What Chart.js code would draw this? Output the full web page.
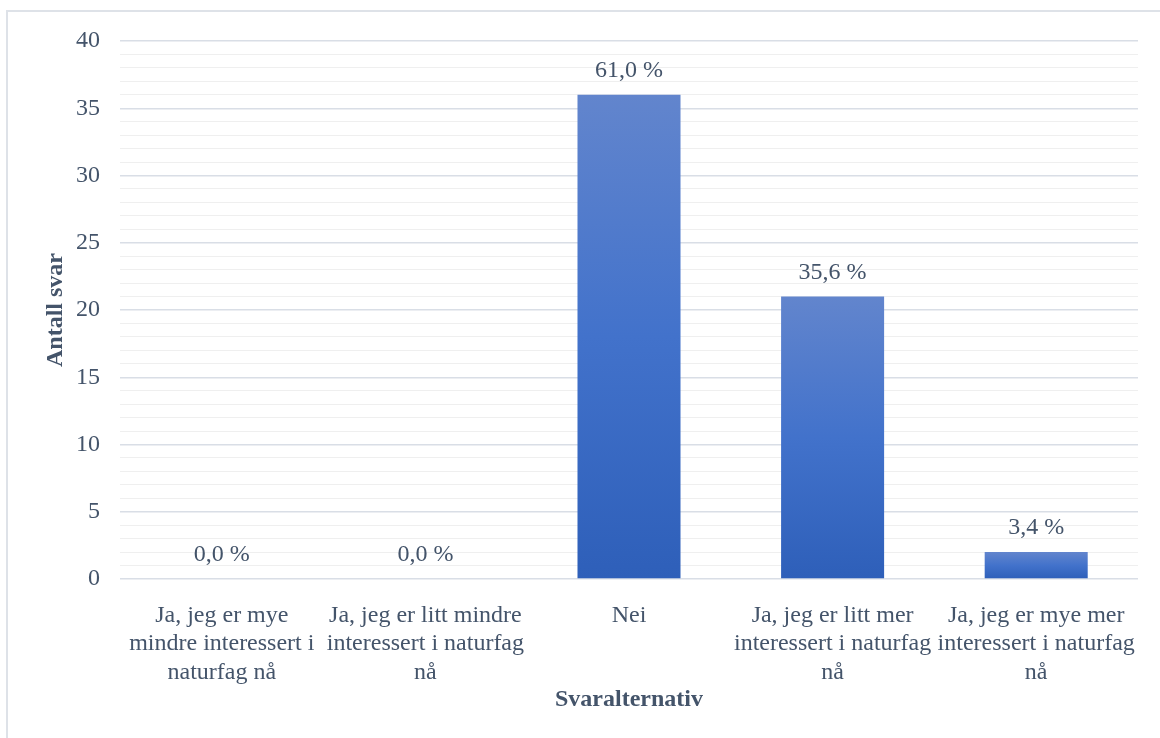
<!DOCTYPE html>
<html>
<head>
<meta charset="utf-8">
<script src="https://cdn.jsdelivr.net/npm/chart.js@4"></script>
<style>
  html, body { margin: 0; padding: 0; background: #fff; }
  #wrap { width: 1160px; height: 738px; }
</style>
</head>
<body>
<div id="wrap"><canvas id="chartCanvas" width="1160" height="738"></canvas></div>
<script>
// data
const categories = [
  ['Ja, jeg er mye', 'mindre interessert i', 'naturfag nå'],
  ['Ja, jeg er litt mindre', 'interessert i naturfag', 'nå'],
  ['Nei'],
  ['Ja, jeg er litt mer', 'interessert i naturfag', 'nå'],
  ['Ja, jeg er mye mer', 'interessert i naturfag', 'nå']
];
const counts = [0, 0, 36, 21, 2];
const yTicks = [0, 5, 10, 15, 20, 25, 30, 35, 40];

const textColor = '#44546a';
const fontFamily = "'Liberation Serif', 'Times New Roman', serif";

const total = counts.reduce((a, b) => a + b, 0);
const pctLabels = counts.map(v => (v / total * 100).toFixed(1).replace('.', ',') + ' %');

// frame around the whole chart
const framePlugin = {
  id: 'frame',
  beforeDraw(chart) {
    const c = chart.ctx;
    c.save();
    c.fillStyle = '#fff';
    c.fillRect(0, 0, chart.width, chart.height);
    c.strokeStyle = '#dee2e8';
    c.lineWidth = 2;
    c.strokeRect(7, 11, 2000, 2000);
    c.restore();
  }
};

// percent labels above each bar
const pctPlugin = {
  id: 'pctLabels',
  afterDatasetsDraw(chart) {
    const c = chart.ctx;
    const meta = chart.getDatasetMeta(0);
    c.save();
    c.font = '24px ' + fontFamily;
    c.fillStyle = textColor;
    c.textAlign = 'center';
    c.textBaseline = 'middle';
    meta.data.forEach((bar, i) => {
      c.fillText(pctLabels[i], bar.x, bar.y - 24);
    });
    c.restore();
  }
};

function barGradient(ctx) {
  const chart = ctx.chart;
  if (!chart.chartArea || ctx.type !== 'data') return '#4472c4';
  const y = chart.scales.y;
  const top = y.getPixelForValue(ctx.raw);
  const bottom = y.getPixelForValue(0);
  if (bottom - top < 1) return '#4472c4';
  const g = chart.ctx.createLinearGradient(0, top, 0, bottom);
  g.addColorStop(0, '#6285cd');
  g.addColorStop(0.5, '#4272cb');
  g.addColorStop(1, '#2e5fb9');
  return g;
}

const chart = new Chart(document.getElementById('chartCanvas').getContext('2d'), {
  type: 'bar',
  data: {
    labels: categories,
    datasets: [{
      data: counts,
      backgroundColor: barGradient,
      borderWidth: 0,
      categoryPercentage: 1,
      barPercentage: 0.506
    }]
  },
  options: {
    responsive: false,
    animation: false,
    layout: { padding: { left: 0, top: 41, right: 22, bottom: 0 } },
    plugins: {
      legend: { display: false },
      tooltip: { enabled: false }
    },
    scales: {
      x: {
        grid: { display: false },
        border: { display: false },
        ticks: {
          color: textColor,
          font: { family: fontFamily, size: 24, lineHeight: 1.2 },
          padding: 14,
          maxRotation: 0,
          autoSkip: false
        },
        title: {
          display: true,
          text: 'Svaralternativ',
          color: textColor,
          font: { family: fontFamily, size: 24, weight: 'bold', lineHeight: 1.2 },
          padding: { top: 0, bottom: 24 }
        },
        afterFit(s) { s.height = 738 - 579; }
      },
      y: {
        min: 0,
        max: 40,
        border: { display: false },
        grid: {
          drawTicks: false,
          color: (c) => (c.tick && c.tick.value % 5 === 0) ? '#d9dee6' : '#efefef',
          lineWidth: (c) => (c.tick && c.tick.value % 5 === 0) ? 1.5 : 1
        },
        ticks: {
          stepSize: 1,
          autoSkip: false,
          padding: 20,
          color: textColor,
          font: { family: fontFamily, size: 24 },
          callback: (v) => yTicks.includes(v) ? String(v) : ''
        },
        title: {
          display: true,
          text: 'Antall svar',
          color: textColor,
          font: { family: fontFamily, size: 24, weight: 'bold', lineHeight: 1.2 },
          padding: { top: 41, bottom: 0 }
        },
        afterFit(s) { s.width = 120; }
      }
    }
  },
  plugins: [framePlugin, pctPlugin]
});
</script>
</body>
</html>
